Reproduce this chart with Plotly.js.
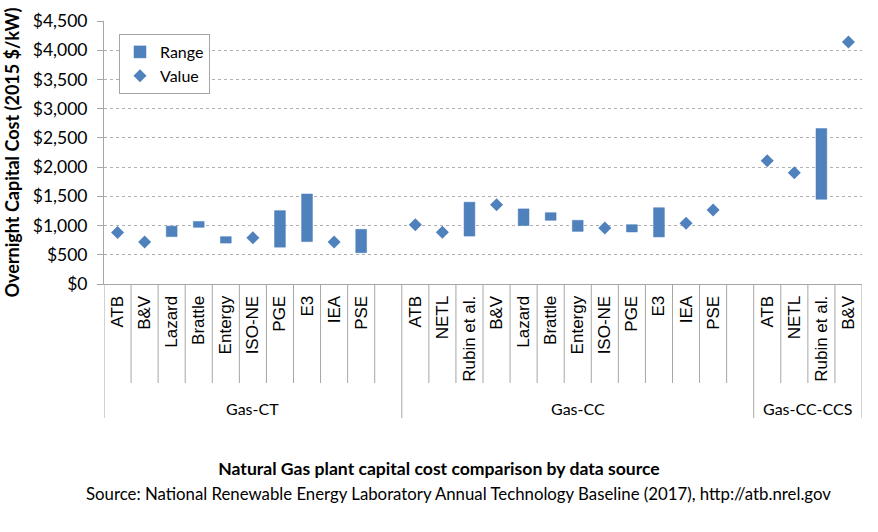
<!DOCTYPE html>
<html>
<head>
<meta charset="utf-8">
<script src="https://cdn.plot.ly/plotly-3.0.1.min.js"></script>
<style>html,body{margin:0;padding:0;background:#fff;}#chart{width:878px;height:532px;}</style>
</head>
<body>
<div id="chart"></div>
<script>
// ---- data ----
const groups = ['Gas-CT', 'Gas-CC', 'Gas-CC-CCS'];

const ctSources = ['ATB','B&V','Lazard','Brattle','Entergy','ISO-NE','PGE','E3','IEA','PSE'];
const ctValue   = [880, 720, null, null, null, 790, null, null, 720, null];
const ctLow     = [null, null, 810, 970, 700, null, 630, 725, null, 535];
const ctHigh    = [null, null, 990, 1070, 810, null, 1255, 1540, null, 935];

const ccSources = ['ATB','NETL','Rubin et al.','B&V','Lazard','Brattle','Entergy','ISO-NE','PGE','E3','IEA','PSE'];
const ccValue   = [1015, 885, null, 1355, null, null, null, 960, null, null, 1040, 1265];
const ccLow     = [null, null, 820, null, 1000, 1090, 900, null, 890, 805, null, null];
const ccHigh    = [null, null, 1400, null, 1285, 1220, 1090, null, 1015, 1305, null, null];

const ccsSources = ['ATB','NETL','Rubin et al.','B&V'];
const ccsValue   = [2110, 1905, null, 4140];
const ccsLow     = [null, null, 1450, null];
const ccsHigh    = [null, null, 2660, null];

const yTickVals = [0, 500, 1000, 1500, 2000, 2500, 3000, 3500, 4000, 4500];
const yTickText = ['$0', '$500', '$1,000', '$1,500', '$2,000', '$2,500', '$3,000', '$3,500', '$4,000', '$4,500'];

// ---- build category axis (with spacer slots between groups) ----
const sets = [
  {g: groups[0], s: ctSources, v: ctValue, lo: ctLow, hi: ctHigh, spacer: true},
  {g: groups[1], s: ccSources, v: ccValue, lo: ccLow, hi: ccHigh, spacer: true},
  {g: groups[2], s: ccsSources, v: ccsValue, lo: ccsLow, hi: ccsHigh, spacer: false}
];
const cats = [], labels = [], vals = [], bases = [], spans = [];
const groupStart = [], groupEnd = [];
sets.forEach(d => {
  groupStart.push(cats.length);
  d.s.forEach((name, i) => {
    cats.push(d.g + '|' + name);
    labels.push(name);
    vals.push(d.v[i]);
    bases.push(d.lo[i]);
    spans.push(d.lo[i] == null ? null : d.hi[i] - d.lo[i]);
  });
  if (d.spacer) {
    cats.push(d.g + '|');
    labels.push('');
    vals.push(null); bases.push(null); spans.push(null);
  }
  groupEnd.push(cats.length);
});

const blue = '#4F81BD';
const font = 'Lato, sans-serif';

const traces = [
  {
    type: 'bar', name: 'Range', x: cats, y: spans, base: bases,
    width: 0.4,
    marker: {color: blue, line: {color: '#4A7EBB', width: 0.5}},
    hoverinfo: 'skip'
  },
  {
    type: 'scatter', mode: 'markers', name: 'Value', x: cats, y: vals,
    marker: {symbol: 'diamond', size: 10, color: blue},
    hoverinfo: 'skip'
  }
];

// separators below the x axis
const plotH = 263;
const innerDrop = -99 / plotH, groupDrop = -134 / plotH;
const shapes = [];
const groupBounds = new Set([0].concat(groupEnd));
for (let k = 0; k <= cats.length; k++) {
  const isGroup = groupBounds.has(k);
  shapes.push({
    type: 'line', xref: 'x', yref: 'paper',
    x0: k - 0.5, x1: k - 0.5, y0: 0, y1: isGroup ? groupDrop : innerDrop,
    line: {color: '#A6A6A6', width: 1}
  });
}

const annotations = groups.map((g, i) => ({
  xref: 'x', yref: 'paper',
  x: (groupStart[i] + groupEnd[i] - 1) / 2, y: -(408 - 284) / plotH,
  text: g, showarrow: false, yanchor: 'middle',
  font: {family: font, size: 16, color: '#000'}
}));
annotations.push({
  xref: 'paper', yref: 'paper',
  x: (458 - 104) / 758, y: -(493 - 284) / plotH,
  text: 'Source: National Renewable Energy Laboratory Annual Technology Baseline (2017), http://atb.nrel.gov',
  showarrow: false, xanchor: 'center', yanchor: 'middle',
  font: {family: font, size: 16.8, color: '#000'}
});

const layout = {
  width: 878, height: 532,
  margin: {l: 104, r: 16, t: 21, b: 248, pad: 0},
  paper_bgcolor: '#fff', plot_bgcolor: '#fff',
  showlegend: true,
  barmode: 'overlay',
  title: {
    text: '<b>Natural Gas plant capital cost comparison by data source</b>',
    x: 0.5, xref: 'container', y: 1 - 469 / 532, yref: 'container',
    xanchor: 'center', yanchor: 'middle',
    font: {family: font, size: 17.6, color: '#000'}
  },
  xaxis: {
    type: 'category', categoryorder: 'array', categoryarray: cats,
    range: [-0.5, cats.length - 0.5],
    tickvals: cats, ticktext: labels, tickangle: -90,
    ticks: '', showgrid: false, zeroline: false,
    showline: true, linecolor: '#A6A6A6', linewidth: 1,
    ticklabelstandoff: 4,
    tickfont: {family: 'Liberation Sans', size: 17, color: '#000'},
    fixedrange: true, automargin: false
  },
  yaxis: {
    range: [0, 4500], tickvals: yTickVals, ticktext: yTickText,
    showgrid: true, gridcolor: '#B0B0B0', griddash: 'dot', gridwidth: 1,
    zeroline: false, showline: true, linecolor: '#A6A6A6', linewidth: 1,
    ticks: 'outside', ticklen: 6, tickcolor: '#A6A6A6',
    ticklabelstandoff: 6,
    tickfont: {family: font, size: 17.5, color: '#000'},
    title: {text: '<b>Overnight Capital Cost (2015 $/kW)</b>', standoff: 8,
            font: {family: font, size: 18, color: '#000'}},
    fixedrange: true, automargin: false
  },
  legend: {
    x: (119 - 104) / 758, y: (284 - 34) / plotH, xanchor: 'left', yanchor: 'top',
    bgcolor: '#fff', bordercolor: '#A6A6A6', borderwidth: 1,
    font: {family: font, size: 16, color: '#000'},
    traceorder: 'normal', itemwidth: 30
  },
  shapes: shapes,
  annotations: annotations
};

Plotly.newPlot('chart', traces, layout, {displayModeBar: false, staticPlot: true});
</script>
</body>
</html>
